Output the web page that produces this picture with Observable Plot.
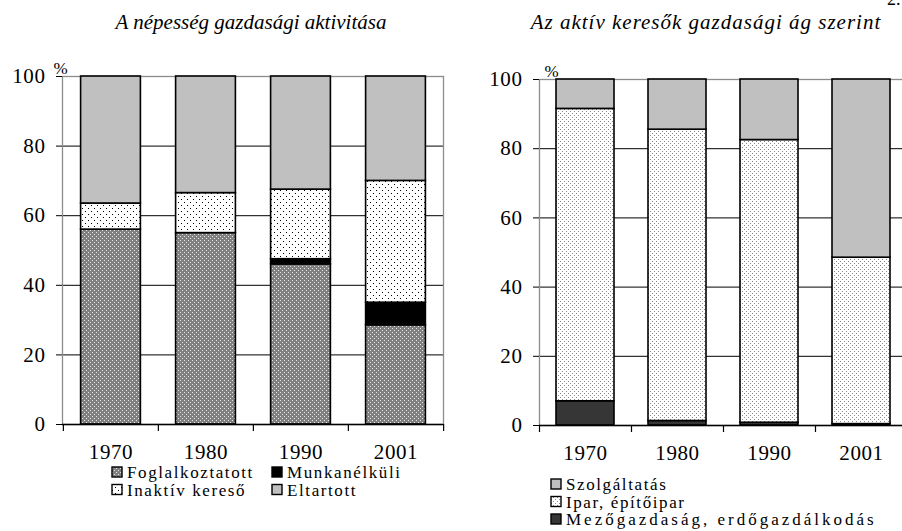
<!DOCTYPE html>
<html><head><meta charset="utf-8">
<script src="https://cdn.jsdelivr.net/npm/d3@7"></script>
<script src="https://cdn.jsdelivr.net/npm/@observablehq/plot@0.6"></script>
<style>
html,body{margin:0;padding:0;background:#fff;overflow:hidden}
#wrap{position:relative;width:902px;height:531px;overflow:hidden;font-family:"Liberation Serif","Times New Roman",serif;color:#000}
#wrap > svg{position:absolute;top:0}
</style></head><body>
<svg width="0" height="0" style="position:absolute;left:-10px;top:-10px">
<defs>
<pattern id="pFog" width="4" height="4" patternUnits="userSpaceOnUse">
 <rect width="4" height="4" fill="#808080"/>
 <rect x="0" y="0" width="1" height="1" fill="#e6e6e6"/>
 <rect x="2" y="2" width="1" height="1" fill="#e6e6e6"/>
</pattern>
<pattern id="pInak" width="6" height="6" patternUnits="userSpaceOnUse">
 <rect width="6" height="6" fill="#fff"/>
 <rect x="1" y="1" width="1" height="1" fill="#000"/>
 <rect x="4" y="4" width="1" height="1" fill="#000"/>
</pattern>
<pattern id="pIpar" width="4" height="4" patternUnits="userSpaceOnUse">
 <rect width="4" height="4" fill="#fff"/>
 <rect x="1" y="1" width="1" height="1" fill="#8a8a8a"/>
 <rect x="3" y="3" width="1" height="1" fill="#8a8a8a"/>
</pattern>
</defs></svg>
<div id="wrap"></div>
<script>
// ---- data ----
const years = ["1970", "1980", "1990", "2001"];
const yTicks = [0, 20, 40, 60, 80, 100];

const leftTitle = "A népesség gazdasági aktivitása";
const leftSeries = ["Foglalkoztatott", "Munkanélküli", "Inaktív kereső", "Eltartott"];
const foglalkoztatott = [56, 55, 46, 28.5];
const munkanelkuli = [0, 0, 1.5, 6.5];
const inaktivKereso = [7.5, 11.5, 20, 35];
const eltartott = [36.5, 33.5, 32.5, 30];

const rightTitle = "Az aktív keresők gazdasági ág szerint";
const rightSeries = ["Mezőgazdaság, erdőgazdálkodás", "Ipar, építőipar", "Szolgáltatás"];
const mezogazdasag = [7, 1.3, 0.8, 0.4];
const ipar = [84.5, 84.2, 81.7, 48.1];
const szolgaltatas = [8.5, 14.5, 17.5, 51.5];

const pageNote = "2.";

// ---- styles ----
const leftFills = ["url(#pFog)", "#000000", "url(#pInak)", "#c0c0c0"];
const rightFills = ["#363636", "url(#pIpar)", "#c0c0c0"];
const FONT = '"Liberation Serif", "Times New Roman", serif';

function toRows(series, arrays) {
  const rows = [];
  years.forEach((yr, i) => {
    series.forEach((s, k) => {
      if (arrays[k][i] > 0) rows.push({year: yr, series: s, value: arrays[k][i]});
    });
  });
  return rows;
}
const leftData = toRows(leftSeries, [foglalkoztatott, munkanelkuli, inaktivKereso, eltartott]);
const rightData = toRows(rightSeries, [mezogazdasag, ipar, szolgaltatas]);

function chart({data, series, fills, width, mL, mR, mT, mB, inset, pctDx}) {
  const step = (width - mL - mR) / years.length;
  return Plot.plot({
    width, height: 531,
    marginLeft: mL, marginRight: mR, marginTop: mT, marginBottom: mB,
    style: {fontFamily: FONT, fontSize: "21px", letterSpacing: "0.6px", overflow: "visible", background: "transparent", color: "#000"},
    x: {type: "band", domain: years, padding: 0, axis: null},
    y: {domain: [0, 100], axis: null},
    color: {domain: series, range: fills},
    marks: [
      Plot.ruleY(yTicks.filter(t => t > 0 && t < 100), {stroke: "#000", strokeWidth: 1}),
      Plot.frame({stroke: "#8c8c8c", strokeWidth: 1.3}),
      Plot.barY(data, {x: "year", y: "value", fill: "series", order: series, stroke: "#000", strokeWidth: 1.6, insetLeft: inset, insetRight: inset}),
      Plot.ruleY([0], {stroke: "#000", strokeWidth: 1.3}),
      Plot.ruleX(years, {x: d => d, dx: -step / 2, y1: 0, y2: 0, insetBottom: -7, stroke: "#000", strokeWidth: 1.2}),
      Plot.ruleX(years.slice(-1), {x: d => d, dx: step / 2, y1: 0, y2: 0, insetBottom: -7, stroke: "#000", strokeWidth: 1.2}),
      Plot.axisY(yTicks, {anchor: "left", tickSize: 6, tickPadding: 11, fontSize: 21, label: null}),
      Plot.axisX(years, {anchor: "bottom", tickSize: 0, tickPadding: 20, fontSize: 21, label: null}),
      Plot.text(["%"], {frameAnchor: "top-left", text: d => d, textAnchor: "start", lineAnchor: "bottom", dx: pctDx, dy: -3, fontSize: 17})
    ]
  });
}

const wrap = document.getElementById("wrap");
const left = chart({data: leftData, series: leftSeries, fills: leftFills, width: 451, mL: 62, mR: 8, mT: 76, mB: 107, inset: 17.6, pctDx: -9});
left.style.left = "0px";
wrap.appendChild(left);
const right = chart({data: rightData, series: rightSeries, fills: rightFills, width: 460, mL: 88, mR: 4, mT: 79, mB: 106, inset: 17, pctDx: 5});
right.style.left = "451px";
wrap.appendChild(right);

// ---- titles & legends overlay ----
const ov = d3.select(wrap).append("svg")
  .attr("width", 902).attr("height", 531)
  .style("left", "0px").style("pointer-events", "none")
  .attr("font-family", FONT);

ov.append("text").attr("x", 251).attr("y", 29).attr("text-anchor", "middle")
  .attr("font-size", 21).attr("font-style", "italic").text(leftTitle);
ov.append("text").attr("x", 706).attr("y", 29).attr("text-anchor", "middle")
  .attr("font-size", 21).attr("font-style", "italic").attr("letter-spacing", "1px").text(rightTitle);
ov.append("text").attr("x", 887).attr("y", 5).attr("font-size", 18).text(pageNote);

function legendItem(x, baseline, fill, label, spacing) {
  const g = ov.append("g");
  g.append("rect").attr("x", x).attr("y", baseline - 11).attr("width", 10).attr("height", 10)
    .attr("fill", fill).attr("stroke", "#000").attr("stroke-width", 1.4);
  g.append("text").attr("x", x + 15).attr("y", baseline).attr("font-size", 17)
    .attr("letter-spacing", spacing + "px").text(label);
}
const leftLegendCols = [112, 272], leftLegendRows = [478, 495.5];
[[0, 0, 0], [1, 1, 0], [2, 0, 1], [3, 1, 1]].forEach(([k, c, r]) =>
  legendItem(leftLegendCols[c], leftLegendRows[r], leftFills[k], leftSeries[k], 1.6));
const rightLegendRows = [490, 507.5, 525];
const rightLegendSpacing = [3, 1.6, 1.6];
[2, 1, 0].forEach((k, r) => legendItem(551, rightLegendRows[r], rightFills[k], rightSeries[k], rightLegendSpacing[k]));
</script>
</body></html>
